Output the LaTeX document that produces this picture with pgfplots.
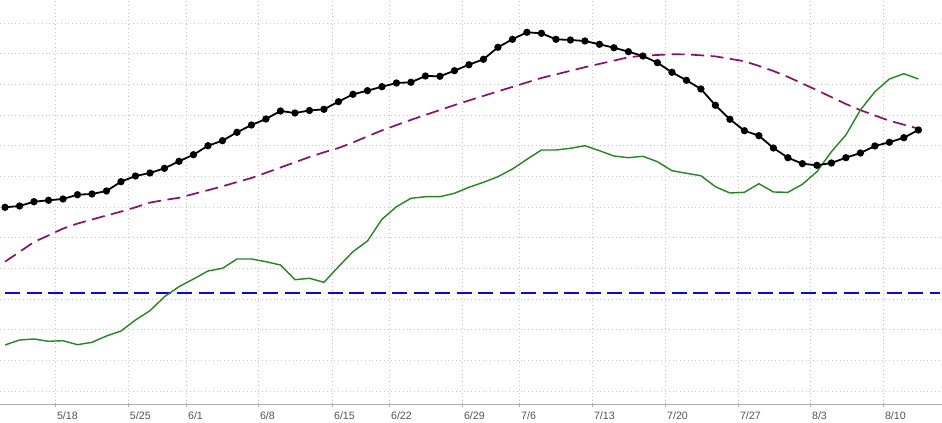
\documentclass[border=0pt]{standalone}
\usepackage{pgfplots}
\pgfplotsset{compat=1.18}
\usepackage{fontspec}
\setmainfont{Liberation Sans}
\definecolor{pur}{RGB}{139,16,104}
\definecolor{grn}{RGB}{34,134,34}
\definecolor{blu}{RGB}{10,10,210}
\definecolor{grd}{RGB}{200,200,200}
\definecolor{axg}{RGB}{175,175,175}
\definecolor{lbl}{RGB}{85,85,85}
\begin{document}
\begin{tikzpicture}
\useasboundingbox (0,0) rectangle (942bp,423bp);
\begin{axis}[
  at={(0,18bp)}, anchor=south west,
  scale only axis, width=942bp, height=405bp,
  xmin=-0.345, xmax=64.63, ymin=0, ymax=405,
  xtick={3.45,8.48,12.49,17.45,22.56,26.49,31.52,35.46,40.49,45.53,50.56,55.53,60.56},
  xticklabels={5/18,5/25,6/1,6/8,6/15,6/22,6/29,7/6,7/13,7/20,7/27,8/3,8/10},
  ytick={14,44.7,75.3,106,136.7,167.3,198,228.7,259.3,290,320.7,351.3,382},
  yticklabels={},
  grid=major,
  grid style={grd, line width=0.8bp, dash pattern=on 1bp off 2.8bp},
  axis line style={draw=none},
  xtick style={axg, line width=0.8bp},
  ytick style={draw=none},
  major tick length=4bp,
  tick align=center,
  xtick pos=left,
  xticklabel style={font=\fontsize{10.7}{12}\selectfont, text=lbl, anchor=north west, xshift=-1.5bp, yshift=-1.5bp},
]
\draw[axg, line width=1bp] (rel axis cs:0,0) -- (rel axis cs:1,0);
% horizontal reference line
\addplot[blu, line width=1.8bp, dash pattern=on 15bp off 6.5bp] coordinates {(0,111.7) (64.5,111.7)};
% moving average (purple dashed)
\addplot[pur, line width=1.7bp, dash pattern=on 13bp off 6.5bp] coordinates {
(0,143.3) (1,153.1) (2,163) (3,169.6) (4,176.4) (5,181.4) (6,185.5) (7,189.5)
(8,193.4) (9,197.7) (10,202.4) (11,205) (12,207.2) (13,211) (14,214.8) (15,218.7)
(16,222.9) (17,227) (18,232.2) (19,237.5) (20,242.7) (21,248) (22,252.7) (23,257)
(24,262.5) (25,268.6) (26,274.6) (27,279.9) (28,285.1) (29,290.1) (30,295) (31,299.9)
(32,304.5) (33,309.1) (34,313.6) (35,318.1) (36,322.6) (37,327) (38,330.6) (39,334.2)
(40,337.8) (41,341.1) (42,344.4) (43,347.7) (44,349.3) (45,350) (46,350.7) (47,350.6)
(48,349.7) (49,348.6) (50,346.2) (51,343.7) (52,339.1) (53,334) (54,328.1) (55,321.5)
(56,314.8) (57,307.9) (58,301) (59,294.9) (60,289.5) (61,284.3) (62,280.3) (63,276.3)
};
% green series
\addplot[grn, line width=1.4bp] coordinates {
(0,60) (1,65) (2,66) (3,63.7) (4,64.3) (5,60.3) (6,62.7) (7,69)
(8,74) (9,85) (10,94.3) (11,108.3) (12,118.3) (13,126) (14,134) (15,136.7)
(16,146) (17,146) (18,143.3) (19,140) (20,125.3) (21,126.7) (22,122.7) (23,138.3)
(24,153.3) (25,164) (26,185.7) (27,198.3) (28,206.7) (29,208.3) (30,208.3) (31,211.7)
(32,217.7) (33,222.7) (34,228.3) (35,236) (36,245.7) (37,255) (38,255) (39,256.7)
(40,259.3) (41,254.3) (42,249) (43,247.3) (44,248.7) (45,243.3) (46,234.3) (47,231.7)
(48,229.3) (49,218.3) (50,212) (51,212.7) (52,221.3) (53,213) (54,212.7) (55,220.7)
(56,233.3) (57,253.3) (58,270) (59,295) (60,313.3) (61,326) (62,331.3) (63,326)
};
% black series with markers
\addplot[black, line width=1.8bp, mark=*, mark size=2.7bp] coordinates {
(0,197.7) (1,199) (2,203.3) (3,204.7) (4,206) (5,210.3) (6,211) (7,214)
(8,223.3) (9,229) (10,232) (11,236.7) (12,243.7) (13,250.3) (14,259.3) (15,264.3)
(16,272.7) (17,280) (18,286) (19,294) (20,292) (21,294.5) (22,295.7) (23,303.3)
(24,310.7) (25,314.3) (26,318.3) (27,322) (28,322.7) (29,329) (30,328.7) (31,334.3)
(32,340.3) (33,345.7) (34,357.7) (35,365.7) (36,372.7) (37,371.7) (38,365.7) (39,365)
(40,364) (41,360.7) (42,357.3) (43,353.3) (44,349) (45,342.3) (46,332.7) (47,324.7)
(48,316) (49,299.7) (50,285.7) (51,274.3) (52,269.3) (53,257) (54,247.3) (55,241.3)
(56,239.7) (57,242) (58,247.3) (59,252) (60,259) (61,262.7) (62,267.3) (63,275)
};
\end{axis}
\end{tikzpicture}
\end{document}
